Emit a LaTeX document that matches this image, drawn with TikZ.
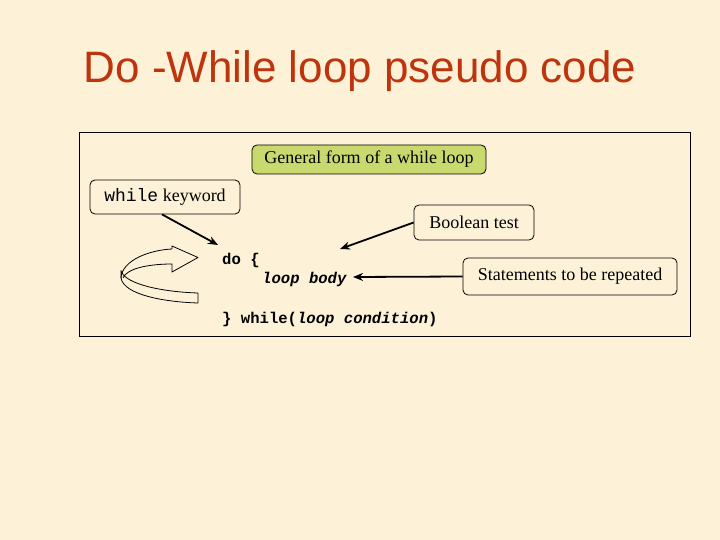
\documentclass[tikz,border=0pt]{standalone}
\usepackage{fontspec}
\setmainfont{Liberation Serif}
\setmonofont{Liberation Mono}
\newfontfamily\titlefont{Liberation Sans}
\usetikzlibrary{arrows.meta}
\definecolor{bgc}{RGB}{253,242,216}
\definecolor{titlec}{RGB}{190,52,12}
\definecolor{greenc}{RGB}{200,217,110}
\tikzset{
  lbl/.style={draw=black, line width=0.8pt, rounded corners=5pt, font=\fontsize{18}{20}\selectfont, inner sep=0pt, align=center},
  code/.style={font=\fontsize{15.6}{17}\selectfont\ttfamily\bfseries, inner sep=0pt, anchor=base west},
  conn/.style={line width=1.8pt, -{Stealth[length=10pt,width=8pt]}},
  ribbon/.style={line width=0.8pt, line join=round}
}
\begin{document}
\begin{tikzpicture}[x=1pt,y=-1pt]
\useasboundingbox (0,0) rectangle (720,540);
\fill[bgc] (0,0) rectangle (720,540);
\node[anchor=base, text=titlec, font=\titlefont\fontsize{44}{48}\selectfont, inner sep=0pt] (title) at (360,83) {Do -While loop pseudo code};
\draw[line width=0.8pt] (79,132) rectangle (690,336);
\node[lbl, fill=greenc, minimum width=234pt, minimum height=29pt] (gen) at (369,159.5) {General form of a while loop};
\node[lbl, minimum width=150pt, minimum height=34pt] (kw) at (165,197) {\texttt{while} keyword};
\node[lbl, minimum width=120pt, minimum height=35pt] (bool) at (474,222.5) {Boolean test};
\node[lbl, minimum width=214pt, minimum height=37pt] (stmt) at (570,276.5) {Statements to be repeated};
\node[code] (do) at (222,264) {do \{};
\node[code] (body) at (262,283) {\itshape loop body};
\node[code] (wh) at (222,323) {\} while(\textit{loop condition})};
\coordinate (kwend) at (218,245);
\coordinate (boolend) at (340,249);
\draw[conn] (kw.south -| 162,0) -- (kwend);
\draw[conn] (bool.west) -- (boolend);
\draw[conn] (stmt.west) -- (353,277);
% curved ribbon arrow
\draw[ribbon] (121,278) .. controls (122,260) and (150,250) .. (172,249)
  -- (172,246) -- (198,257.5) -- (172,272) -- (172,264)
  .. controls (150,264) and (127,268) .. (123,278);
\draw[ribbon] (121,270) -- (121,278) .. controls (124,295) and (165,302) .. (198,303) -- (198,293)
  .. controls (165,292) and (126,285) .. (121,271);
\end{tikzpicture}
\end{document}
